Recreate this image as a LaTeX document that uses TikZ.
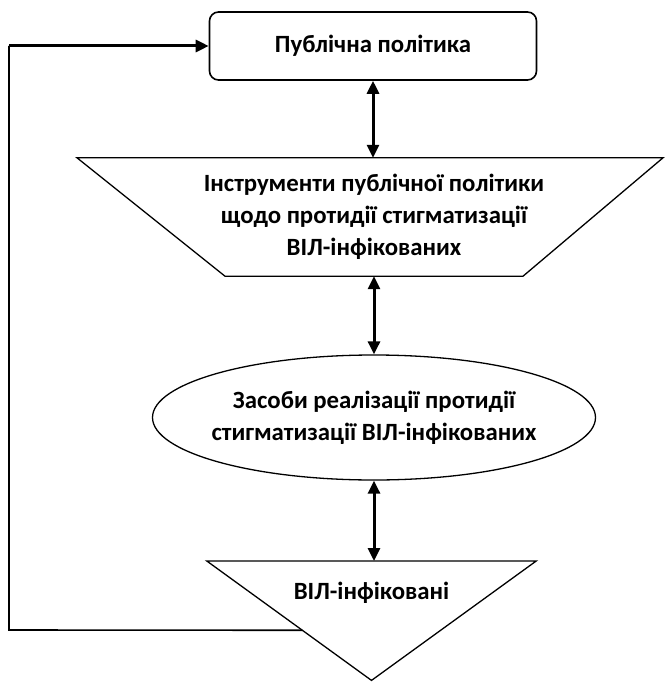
\documentclass[tikz,border=0pt]{standalone}
\usepackage{fontspec}
\setmainfont{Carlito}
\usetikzlibrary{arrows.meta,positioning,calc,shapes.geometric}
\tikzset{
  labeltext/.style={align=center, inner sep=0pt, font=\fontsize{24.8}{32}\selectfont\bfseries},
  politbox/.style={labeltext, draw, rounded corners=9pt, line width=1.6pt,
    minimum width=327pt, minimum height=68pt},
  toolsbox/.style={labeltext, minimum height=118pt},
  meansbox/.style={labeltext, ellipse, draw, line width=1.3pt, inner xsep=-20pt,
    minimum width=443pt, minimum height=125pt},
  hivbox/.style={labeltext, minimum width=329pt, minimum height=64pt},
  shapeline/.style={line width=1.3pt, line join=miter},
  biflow/.style={{Triangle[length=13pt,width=12pt]}-{Triangle[length=13pt,width=12pt]}, line width=3pt},
  flow/.style={-{Triangle[length=13pt,width=12pt]}, line width=3pt},
  backline/.style={line width=1.6pt}
}
\begin{document}
\begin{tikzpicture}[x=1pt,y=1pt]
\useasboundingbox (0,0) rectangle (664,-682);
\node[politbox] (polit) at (373,-46) {Публічна політика};
\node[toolsbox] (tools) at (374,-217) {Інструменти публічної політики\\щодо протидії стигматизації\\ВІЛ-інфікованих};
\draw[shapeline] ($(tools.north)+(-297,0)$) -- ($(tools.north)+(289,0)$)
  -- ($(tools.south)+(149,0)$) -- ($(tools.south)+(-149,0)$) -- cycle;
\node[meansbox] (means) at (374,-417.5) {Засоби реалізації протидії\\стигматизації ВІЛ-інфікованих};
\node[hivbox, anchor=north] (hiv) at (371.5,-561) {ВІЛ-інфіковані};
\coordinate (apex) at ($(hiv.south)+(0,-55)$);
\draw[shapeline] (hiv.north west) -- (hiv.north east) -- (apex) -- cycle;

\draw[biflow] (polit.south) -- (polit.south |- tools.north);
\draw[biflow] (tools.south) -- (means.north);
\draw[biflow] (means.south) -- (means.south |- hiv.north);

% feedback loop
\coordinate (fb) at ($(hiv.north west)!0.58!(apex)$);
\coordinate (lft) at (9,-630);
\draw[backline] (fb) -- (lft) -- (lft |- polit.west);
\draw[flow] (lft |- polit.west) -- (polit.west);
\end{tikzpicture}
\end{document}
